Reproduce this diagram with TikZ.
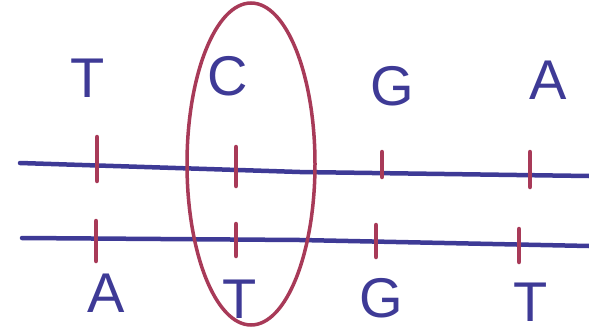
\documentclass[tikz,border=0pt]{standalone}
\usepackage{fontspec}
\setmainfont{Liberation Sans}
\usetikzlibrary{shapes.geometric}
\definecolor{inkblue}{RGB}{62,58,150}
\definecolor{inkred}{RGB}{168,58,88}
\begin{document}
\begin{tikzpicture}[x=1pt,y=-1pt,
  strand/.style={draw=inkblue,line width=4.5pt,line cap=round},
  tick/.style={draw=inkred,line width=4.5pt,line cap=round},
  base/.style={text=inkblue,font=\fontsize{56}{56}\selectfont,inner sep=0pt},
  loop/.style={draw=inkred,line width=3.5pt}]
\useasboundingbox (0,0) rectangle (589,332);
% strands
\coordinate (s1a) at (20,163);
\coordinate (s1b) at (589,176);
\coordinate (s2a) at (22,238);
\coordinate (s2b) at (589,246);
\draw[strand] (s1a) -- (300,172) -- (s1b);
\draw[strand] (s2a) -- (300,240) -- (s2b);
% ticks top
\draw[tick] (97,137) -- (97,181);
\draw[tick] (236,147) -- (236,186);
\draw[tick] (382,152) -- (382,177);
\draw[tick] (530,152) -- (530,187);
% ticks bottom
\draw[tick] (96,221) -- (96,261);
\draw[tick] (236,224) -- (236,256);
\draw[tick] (376,225) -- (376,257);
\draw[tick] (519,229) -- (519,262);
% bases top
\node[base] (t1) at (88,78) {T};
\node[base] (t2) at (228,76) {C};
\node[base] (t3) at (392,86) {G};
\node[base] (t4) at (548,80) {A};
% bases bottom
\node[base] (b1) at (106,293) {A};
\node[base] (b2) at (240,299) {T};
\node[base] (b3) at (381,298) {G};
\node[base] (b4) at (531,302) {T};
% circle around pair
\node[loop,ellipse,minimum width=128pt,minimum height=322pt,inner sep=0pt] (ring) at (251,164) {};
\end{tikzpicture}
\end{document}
